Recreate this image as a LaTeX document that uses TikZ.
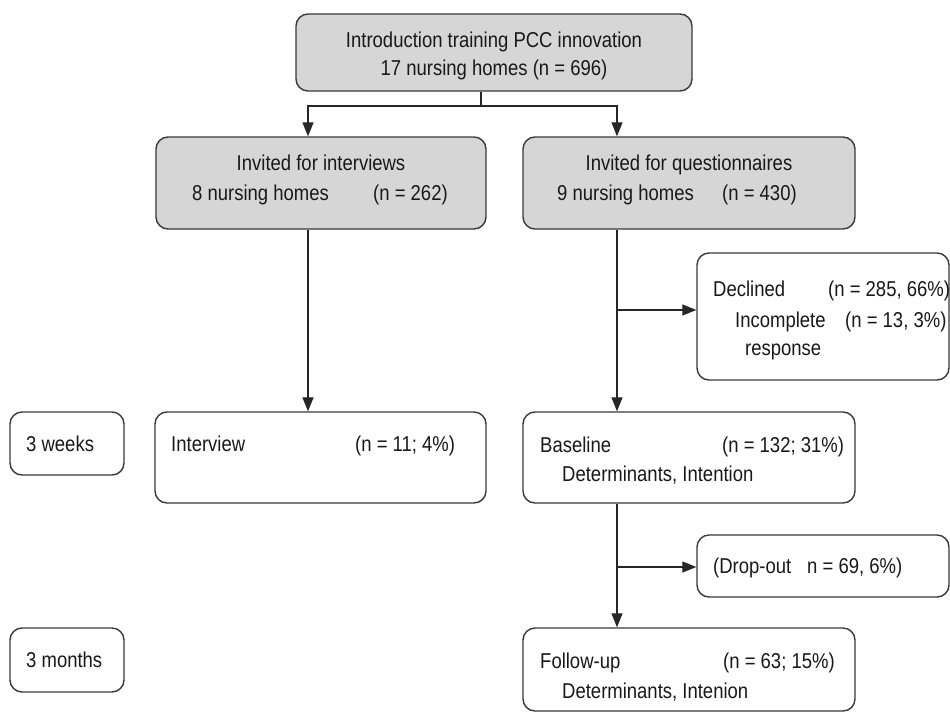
\documentclass[tikz,border=0pt]{standalone}
\usepackage{fontspec}
\setmainfont{Liberation Sans}[FakeStretch=0.86]
\usetikzlibrary{arrows.meta}
\definecolor{boxgrey}{HTML}{D6D6D6}
\definecolor{edge}{HTML}{3A3A3A}
\tikzset{
  box/.style={draw=edge, line width=1.4pt, rounded corners=12pt, inner sep=0pt},
  greybox/.style={box, fill=boxgrey},
  txt/.style={inner sep=0pt, anchor=base west, font=\fontsize{21.5}{25}\selectfont, text=black!90},
  ctxt/.style={txt, anchor=base},
  conn/.style={draw=black!85, line width=1.3pt},
  arr/.style={conn, -{Triangle[length=14pt,width=11pt]}}
}
\begin{document}
\begin{tikzpicture}[x=1pt,y=-1pt]
\useasboundingbox (0,0) rectangle (950,715);
\fill[white] (0,0) rectangle (950,715);

% boxes
\node[greybox, minimum width=396pt, minimum height=77pt] (top) at (494,52.5) {};
\node[greybox, minimum width=330pt, minimum height=92pt] (inv1) at (321,183) {};
\node[greybox, minimum width=332pt, minimum height=92pt] (inv2) at (689,183) {};
\node[box, minimum width=331pt, minimum height=91pt] (intv) at (320.5,457.5) {};
\node[box, minimum width=114pt, minimum height=63pt] (w3) at (67,443.5) {};
\node[box, minimum width=114pt, minimum height=64pt] (m3) at (67,660) {};
\node[box, minimum width=252pt, minimum height=127pt] (dec) at (823,316.5) {};
\node[box, minimum width=332pt, minimum height=91pt] (base) at (689,457.5) {};
\node[box, minimum width=252pt, minimum height=62pt] (drop) at (823,566) {};
\node[box, minimum width=332pt, minimum height=83pt] (fol) at (689,669.5) {};

% texts
\node[ctxt] (t1) at (494,47) {Introduction training PCC innovation};
\node[ctxt] (t2) at (494,75) {17 nursing homes (n = 696)};
\node[ctxt] (i1a) at (321,170) {Invited for interviews};
\node[txt] (i1b) at (192,200) {8 nursing homes};
\node[txt] (i1c) at (373,200) {(n = 262)};
\node[ctxt] (i2a) at (689,170) {Invited for questionnaires};
\node[txt] (i2b) at (557,200) {9 nursing homes};
\node[txt] (i2c) at (722,200) {(n = 430)};
\node[txt] (iva) at (171,451) {Interview};
\node[txt] (ivb) at (355,451) {(n = 11; 4\%)};
\node[txt] (w3t) at (26,451) {3 weeks};
\node[txt] (m3t) at (26,667) {3 months};
\node[txt] (da) at (713,296) {Declined};
\node[txt] (db) at (828,296) {(n = 285, 66\%)};
\node[txt] (dc) at (735,327) {Incomplete};
\node[txt] (dd) at (845,327) {(n = 13, 3\%)};
\node[txt] (de) at (745,355) {response};
\node[txt] (ba) at (540,452) {Baseline};
\node[txt] (bb) at (722,452) {(n = 132; 31\%)};
\node[txt] (bc) at (562,481) {Determinants, Intention};
\node[txt] (dra) at (713,573) {(Drop-out};
\node[txt] (drb) at (807,573) {n = 69, 6\%)};
\node[txt] (fa) at (540,668) {Follow-up};
\node[txt] (fb) at (723,668) {(n = 63; 15\%)};
\node[txt] (fc) at (562,698) {Determinants, Intenion};

% connector coordinates
\coordinate (xt) at (481,0);
\coordinate (xl) at (308,0);
\coordinate (xr) at (617,0);
\coordinate (split) at (481,106);
\coordinate (j1) at (617,310);
\coordinate (j2) at (617,567);

% connectors
\draw[conn] (top.south -| xt) -- (split);
\draw[arr] (split) -| (inv1.north -| xl);
\draw[arr] (split) -| (inv2.north -| xr);
\draw[arr] (inv1.south -| xl) -- (intv.north -| xl);
\draw[arr] (inv2.south -| xr) -- (base.north -| xr);
\draw[arr] (j1) -- (j1 -| dec.west);
\draw[arr] (base.south -| xr) -- (fol.north -| xr);
\draw[arr] (j2) -- (j2 -| drop.west);
\end{tikzpicture}
\end{document}
